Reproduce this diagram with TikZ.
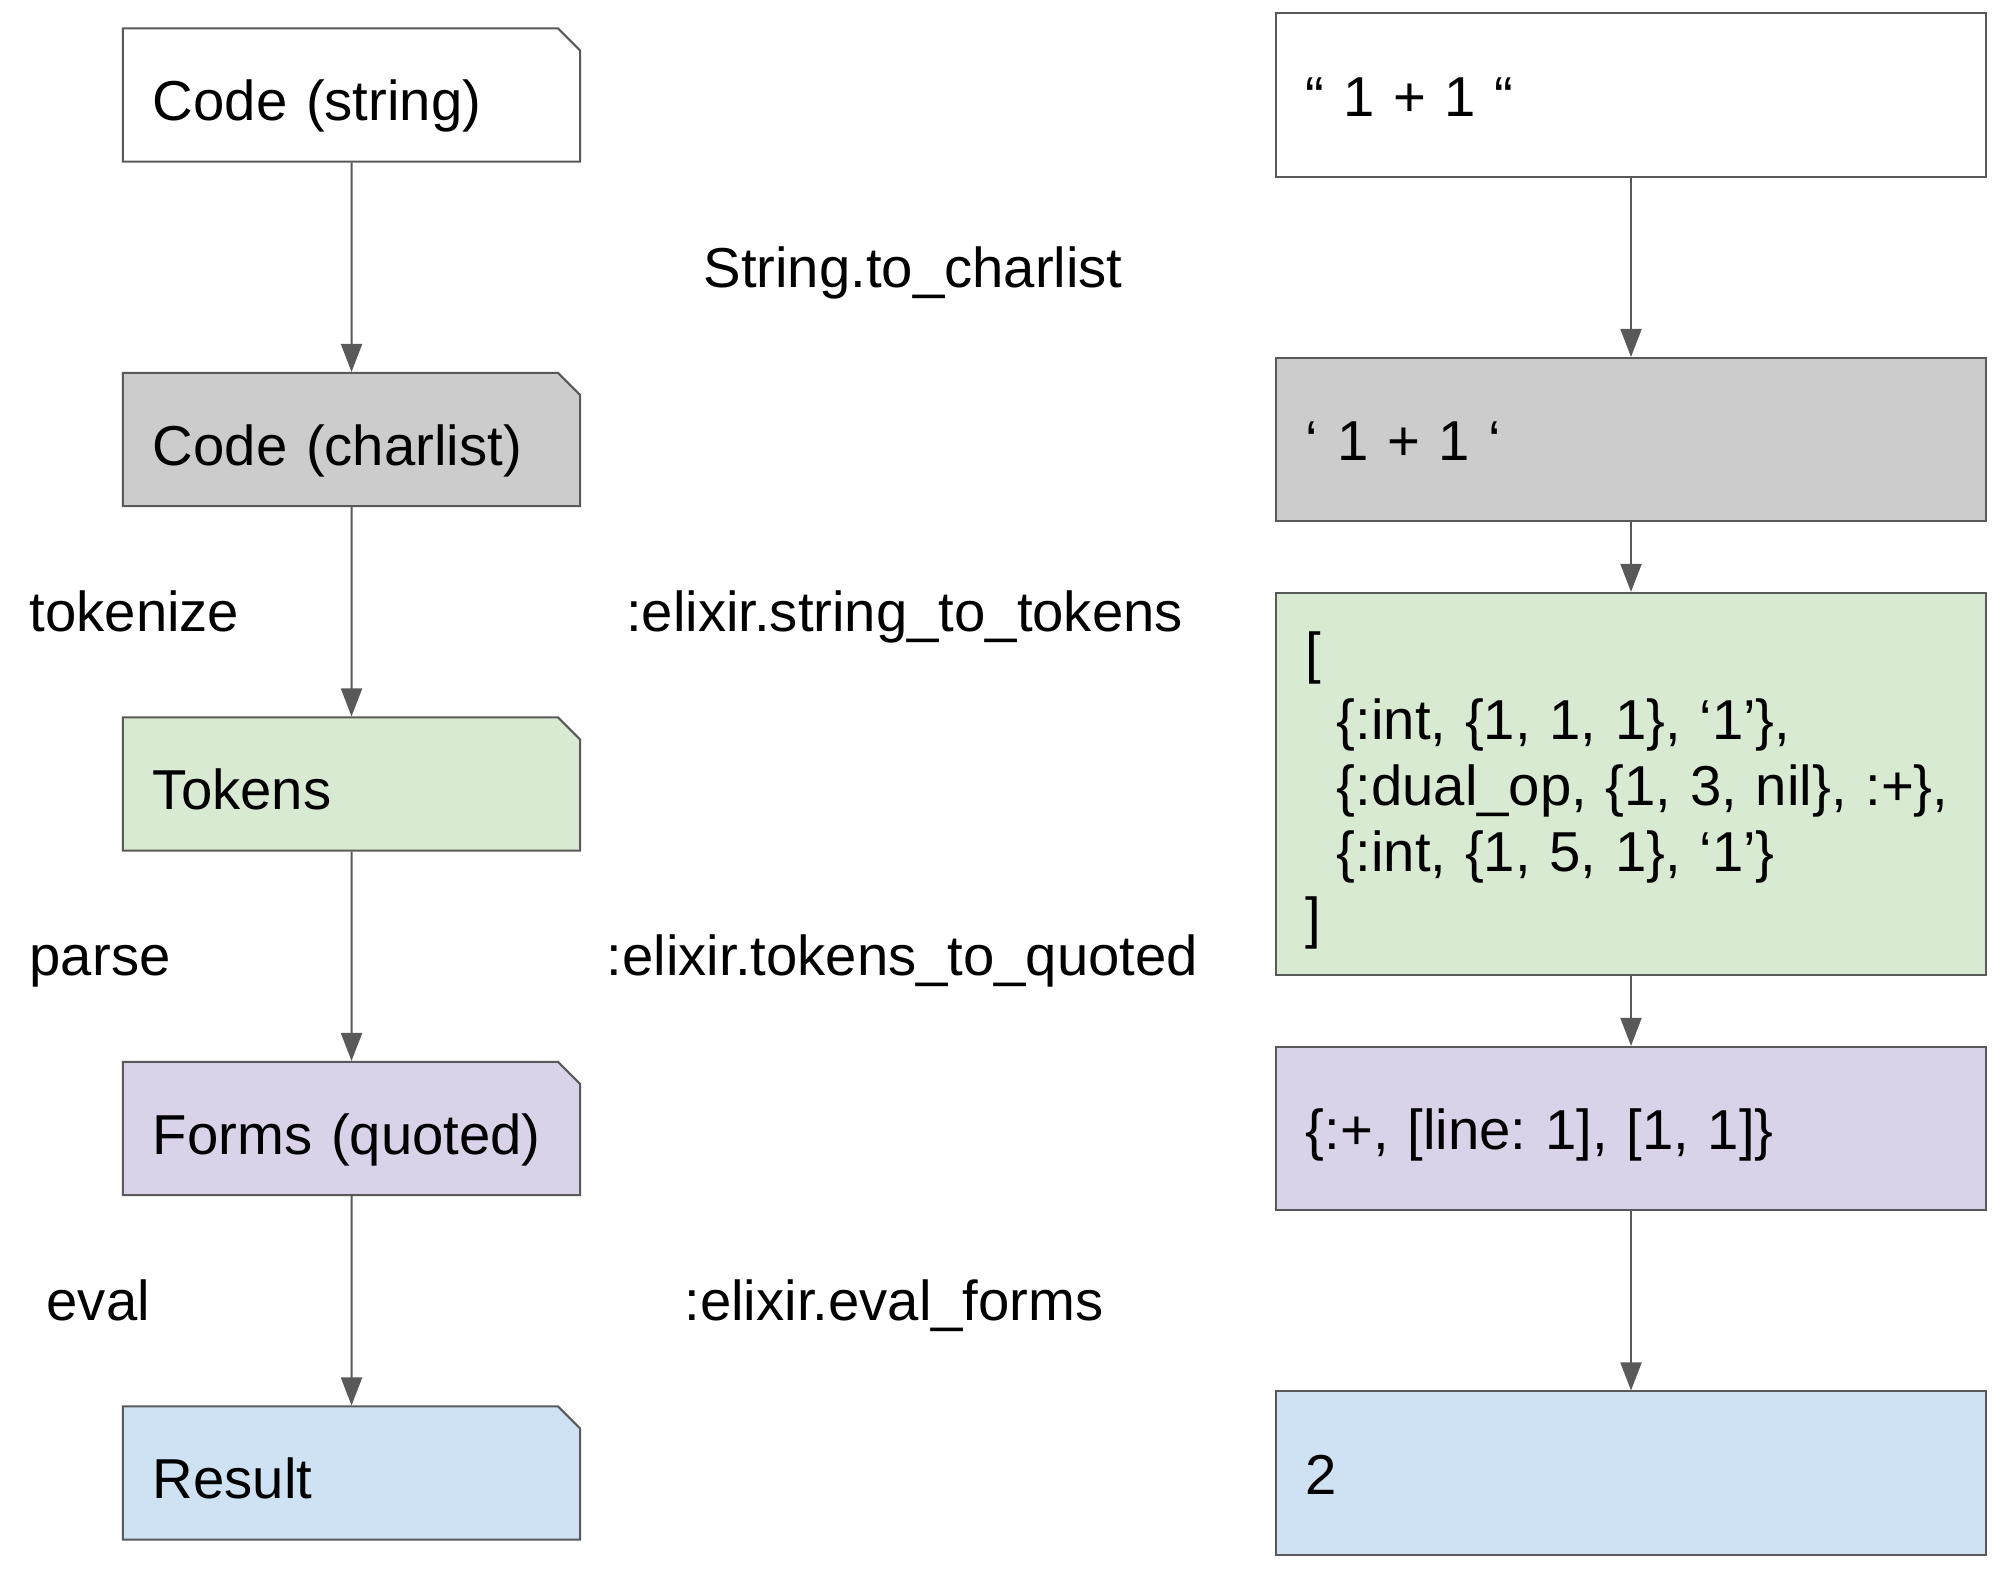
\documentclass[tikz,border=0pt]{standalone}
\usepackage{fontspec}
\setmainfont{Liberation Sans}
\frenchspacing
\usetikzlibrary{arrows.meta,shapes.misc}

\definecolor{edgegray}{HTML}{595959}
\definecolor{chargray}{HTML}{CCCCCC}
\definecolor{tokgreen}{HTML}{D9EAD3}
\definecolor{formlilac}{HTML}{D9D2E9}
\definecolor{resblue}{HTML}{CFE2F3}

\begin{document}
\begin{tikzpicture}[x=0.01cm,y=-0.01cm,
        font=\fontsize{16}{18.8}\selectfont,
        every node/.style={inner sep=0pt},
        stage/.style={chamfered rectangle, chamfered rectangle corners=north east,
            chamfered rectangle xsep=0.11cm, chamfered rectangle ysep=0.11cm,
            draw=edgegray, line width=0.02cm, minimum width=4.35cm, minimum height=1.33cm,
            text width=3.97cm, align=left, inner xsep=0.19cm,
            text height=0.6cm, text depth=0.09cm},
        value/.style={rectangle, draw=edgegray, line width=0.02cm, minimum width=7.1cm,
            minimum height=1.63cm, text width=6.5cm, align=left, inner xsep=0.3cm},
        oneline/.style={text height=0.55cm, text depth=0.13cm},
        fname/.style={anchor=base},
        flow/.style={draw=edgegray, line width=0.02cm,
            -{Triangle[length=0.28cm,width=0.21cm]}}]
        \useasboundingbox (0,0) rectangle (2006,1578);

        % left column
        \node[stage] (code) at (351.5,95) {Code (string)};
        \node[stage, fill=chargray] (chars) at (351.5,439.5) {Code (charlist)};
        \node[stage, fill=tokgreen] (toks) at (351.5,784) {Tokens};
        \node[stage, fill=formlilac] (forms) at (351.5,1128.5) {Forms (quoted)};
        \node[stage, fill=resblue] (res) at (351.5,1473) {Result};

        % right column
        \node[value, oneline] (v1) at (1631,95) {“ 1 + 1 “};
        \node[value, oneline, fill=chargray] (v2) at (1631,439.5) {‘ 1 + 1 ‘};
        \node[value, fill=tokgreen, minimum height=3.82cm,
              text height=0.5cm, text depth=2.72cm] (v3) at (1631,784)
            {[\\
             \hspace*{0.31cm}\{:int, \{1, 1, 1\}, ‘1’\},\\
             \hspace*{0.31cm}\{:dual\_op, \{1, 3, nil\}, :+\},\\
             \hspace*{0.31cm}\{:int, \{1, 5, 1\}, ‘1’\}\\
             ]};
        \node[value, oneline, fill=formlilac] (v4) at (1631,1128.5) {\{:+, [line: 1], [1, 1]\}};
        \node[value, oneline, fill=resblue] (v5) at (1631,1473) {2};

        % labels
        \node[fname] (s2c) at (913,287) {String.to\_charlist};
        \node[fname] (s2t) at (904.5,631.6) {:elixir.string\_to\_tokens};
        \node[fname] (t2q) at (902.5,975) {:elixir.tokens\_to\_quoted};
        \node[fname] (evf) at (894,1320) {:elixir.eval\_forms};
        \node[fname, anchor=base west] (tok) at (29,631) {tokenize};
        \node[fname, anchor=base west] (par) at (29,975) {parse};
        \node[fname, anchor=base west] (evl) at (46,1320) {eval};

        \foreach \from/\to in {code/chars, chars/toks, toks/forms, forms/res,
                               v1/v2, v2/v3, v3/v4, v4/v5}
            \draw[flow] (\from) -- (\to);
\end{tikzpicture}
\end{document}
